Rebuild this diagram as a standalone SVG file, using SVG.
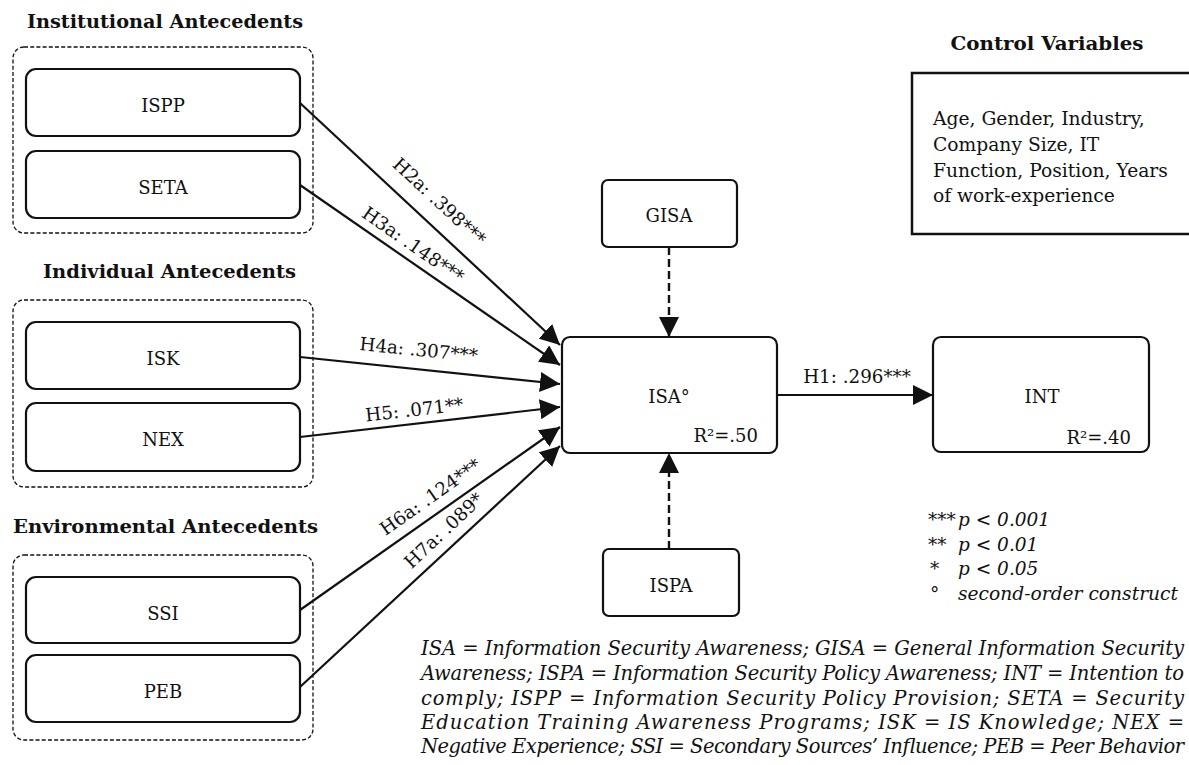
<svg xmlns="http://www.w3.org/2000/svg" width="1189" height="765" viewBox="0 0 1189 765">
  <style>
    text { font-family: "DejaVu Serif", "Liberation Serif", serif; fill: #111; }
    .title { font-size: 19px; font-weight: bold; }
    .node { font-size: 18px; text-anchor: middle; }
    .r2 { font-size: 18px; text-anchor: end; }
    .lbl { font-size: 18.3px; text-anchor: middle; }
    .ctrl { font-size: 18.7px; }
    .leg { font-size: 18.5px; font-style: italic; }
    .foot { font-size: 19.5px; font-style: italic; }
    .box { fill: #fff; stroke: #111; stroke-width: 2.2; }
    .group { fill: none; stroke: #111; stroke-width: 1.3; stroke-dasharray: 4 2.2; }
    .edge { fill: none; stroke: #111; stroke-width: 2.2; marker-end: url(#arrow); }
    .dashed { stroke-dasharray: 8 4; stroke-width: 2.4; }
  </style>
  <defs>
    <marker id="arrow" viewBox="0 0 20 20" refX="20" refY="10" markerWidth="20" markerHeight="20" markerUnits="userSpaceOnUse" orient="auto">
      <path d="M0,0 L20,10 L0,20 z" fill="#111"/>
    </marker>
  </defs>

  <rect width="1189" height="765" fill="#fff"/>

  <!-- antecedent groups -->
  <g id="institutional">
    <text class="title" x="27" y="28" textLength="276" lengthAdjust="spacingAndGlyphs">Institutional Antecedents</text>
    <rect class="group" x="13" y="47" width="300" height="186" rx="11"/>
  </g>
  <g id="individual">
    <text class="title" x="43" y="278" textLength="253" lengthAdjust="spacingAndGlyphs">Individual Antecedents</text>
    <rect class="group" x="13" y="300" width="300" height="187" rx="11"/>
  </g>
  <g id="environmental">
    <text class="title" x="13" y="533" textLength="305" lengthAdjust="spacingAndGlyphs">Environmental Antecedents</text>
    <rect class="group" x="13" y="555" width="300" height="185" rx="11"/>
  </g>

  <!-- connectors -->
  <g id="connectors">
    <line class="edge" x1="300" y1="103" x2="560" y2="345"/>
    <line class="edge" x1="300" y1="185" x2="560" y2="365"/>
    <line class="edge" x1="300" y1="357" x2="560" y2="384"/>
    <line class="edge" x1="300" y1="437" x2="560" y2="407"/>
    <line class="edge" x1="300" y1="610" x2="560" y2="427"/>
    <line class="edge" x1="300" y1="687" x2="560" y2="446"/>
    <line class="edge" x1="777" y1="395" x2="933" y2="395"/>
    <line class="edge dashed" x1="669" y1="247" x2="669" y2="337"/>
    <line class="edge dashed" x1="669" y1="549" x2="669" y2="453"/>

    <text class="lbl" transform="translate(435,206) rotate(42.9)">H2a: .398***</text>
    <text class="lbl" transform="translate(409.5,250) rotate(34.7)">H3a: .148***</text>
    <text class="lbl" transform="translate(418,356) rotate(5.7)">H4a: .307***</text>
    <text class="lbl" transform="translate(415,416) rotate(-6.4)">H5: .071**</text>
    <text class="lbl" transform="translate(434,502) rotate(-35.1)">H6a: .124***</text>
    <text class="lbl" transform="translate(448,535) rotate(-43.3)">H7a: .089*</text>
    <text class="lbl" x="857" y="383">H1: .296***</text>
  </g>

  <!-- construct nodes -->
  <g id="ISPP">
    <rect class="box" x="26" y="69" width="274" height="67" rx="10"/>
    <text class="node" x="163" y="112">ISPP</text>
  </g>
  <g id="SETA">
    <rect class="box" x="26" y="151" width="274" height="67" rx="10"/>
    <text class="node" x="163" y="194">SETA</text>
  </g>
  <g id="ISK">
    <rect class="box" x="26" y="322" width="274" height="67" rx="10"/>
    <text class="node" x="163" y="365">ISK</text>
  </g>
  <g id="NEX">
    <rect class="box" x="26" y="403" width="274" height="68" rx="10"/>
    <text class="node" x="163" y="446">NEX</text>
  </g>
  <g id="SSI">
    <rect class="box" x="26" y="577" width="274" height="66" rx="10"/>
    <text class="node" x="163" y="620">SSI</text>
  </g>
  <g id="PEB">
    <rect class="box" x="26" y="655" width="274" height="67" rx="10"/>
    <text class="node" x="163" y="698">PEB</text>
  </g>
  <g id="GISA">
    <rect class="box" x="602" y="180" width="135" height="67" rx="6"/>
    <text class="node" x="669" y="222">GISA</text>
  </g>
  <g id="ISA">
    <rect class="box" x="562" y="337" width="215" height="116" rx="8"/>
    <text class="node" x="669" y="403">ISA°</text>
    <text class="r2" x="758" y="442">R²=.50</text>
  </g>
  <g id="ISPA">
    <rect class="box" x="603" y="549" width="136" height="67" rx="6"/>
    <text class="node" x="671" y="592">ISPA</text>
  </g>
  <g id="INT">
    <rect class="box" x="933" y="337" width="216" height="115" rx="8"/>
    <text class="node" x="1042" y="403">INT</text>
    <text class="r2" x="1131" y="444">R²=.40</text>
  </g>

  <!-- control variables -->
  <g id="controls">
    <text class="title" x="1047" y="50" text-anchor="middle" textLength="193" lengthAdjust="spacingAndGlyphs">Control Variables</text>
    <rect x="912" y="73" width="290" height="161" fill="#fff" stroke="#111" stroke-width="2.5"/>
    <text class="ctrl" x="933" y="125">Age, Gender, Industry,</text>
    <text class="ctrl" x="933" y="151">Company Size, IT</text>
    <text class="ctrl" x="933" y="177">Function, Position, Years</text>
    <text class="ctrl" x="933" y="202">of work-experience</text>
  </g>

  <!-- significance legend -->
  <g id="legend">
    <text class="leg" x="928" y="526">***</text>
    <text class="leg" x="958" y="526">p &lt; 0.001</text>
    <text class="leg" x="928" y="551">**</text>
    <text class="leg" x="958" y="551">p &lt; 0.01</text>
    <text class="leg" x="930" y="575">*</text>
    <text class="leg" x="958" y="575">p &lt; 0.05</text>
    <text class="ctrl" x="930" y="600">°</text>
    <text class="leg" x="958" y="600" textLength="220" lengthAdjust="spacingAndGlyphs">second-order construct</text>
  </g>

  <!-- abbreviations -->
  <g id="abbreviations">
    <text class="foot" x="421" y="655" textLength="763" lengthAdjust="spacing">ISA = Information Security Awareness; GISA = General Information Security</text>
    <text class="foot" x="421" y="680" textLength="763" lengthAdjust="spacing">Awareness; ISPA = Information Security Policy Awareness; INT = Intention to</text>
    <text class="foot" x="421" y="705" textLength="763" lengthAdjust="spacing">comply; ISPP = Information Security Policy Provision; SETA = Security</text>
    <text class="foot" x="421" y="729" textLength="763" lengthAdjust="spacing">Education Training Awareness Programs; ISK = IS Knowledge; NEX =</text>
    <text class="foot" x="421" y="753" textLength="763" lengthAdjust="spacing">Negative Experience; SSI = Secondary Sources’ Influence; PEB = Peer Behavior</text>
  </g>
</svg>
